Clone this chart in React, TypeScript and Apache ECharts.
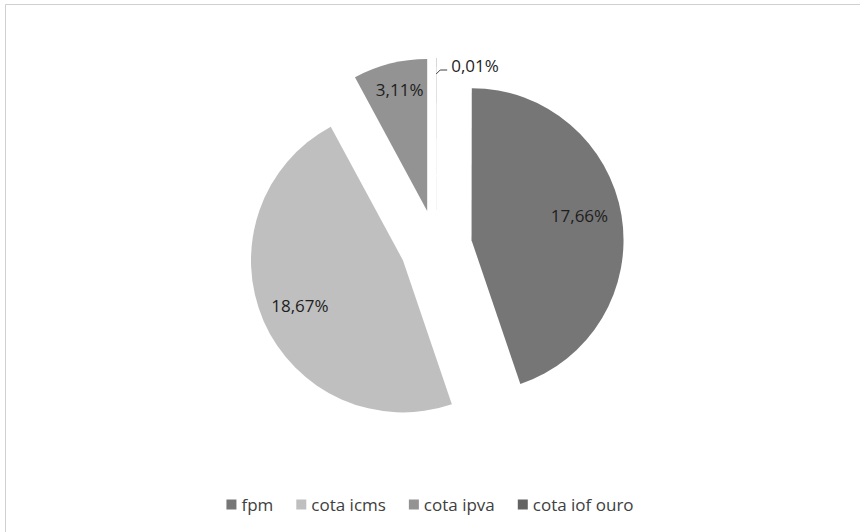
import React, { useEffect, useRef } from "react";
import * as echarts from "echarts";

const categories = ["fpm", "cota icms", "cota ipva", "cota iof ouro"];
const values = [17.66, 18.67, 3.11, 0.01];
const colors = ["#767676", "#bfbfbf", "#939393", "#636363"];

const fmt = (v: number) => v.toFixed(2).replace(".", ",") + "%";
const FONT = "'Open Sans', 'Liberation Sans', sans-serif";

export default function App() {
  const ref = useRef<HTMLDivElement>(null);
  useEffect(() => {
    const chart = echarts.init(ref.current!, null, { renderer: "svg" });
    const center = [436, 246];
    const R = 152;
    const offset = 36;
    const mainData = categories.map((name, i) => ({
      name,
      value: values[i],
      selected: true,
      itemStyle: { color: colors[i] },
      label:
        i === 3
          ? { show: true, position: "outside" }
          : { show: false },
      labelLine: { show: i === 3 },
    }));
    const labelData = categories.map((name, i) => ({
      name,
      value: values[i],
      selected: true,
      itemStyle: { color: "rgba(0,0,0,0)" },
      label: { show: i !== 3 },
    }));
    chart.setOption({
      animation: false,
      backgroundColor: "#ffffff",
      graphic: [
        {
          type: "rect",
          shape: { x: 5.5, y: 4.5, width: 900, height: 600 },
          style: { fill: "none", stroke: "#cfcfcf", lineWidth: 1 },
          silent: true,
        },
      ],
      legend: {
        data: categories,
        bottom: 14,
        left: "center",
        icon: "rect",
        itemWidth: 10,
        itemHeight: 10,
        itemGap: 23,
        textStyle: { fontFamily: FONT, fontSize: 17, color: "#404040" },
        selectedMode: false,
      },
      series: [
        {
          type: "pie",
          center,
          radius: R,
          startAngle: 89.9,
          clockwise: true,
          selectedMode: "multiple",
          selectedOffset: offset,
          silent: true,
          avoidLabelOverlap: false,
          label: {
            formatter: (p: any) => fmt(p.value),
            fontFamily: FONT,
            fontSize: 17,
            color: "#1e1e1e",
          },
          labelLine: {
            length: 6,
            length2: 8,
            lineStyle: { color: "#404040", width: 1 },
          },
          labelLayout: (p: any) => {
            const pts = p.labelLinePoints;
            if (p.dataIndex !== 3 || !pts) return {};
            const x0 = pts[0][0];
            const y0 = pts[0][1];
            return {
              dx: 2,
              dy: 13,
              labelLinePoints: [
                [x0, y0 + 16],
                [x0 + 4, y0 + 12],
                [x0 + 11, y0 + 12],
              ],
            };
          },
          data: mainData,
        },
        {
          type: "pie",
          center,
          radius: R * 1.44,
          startAngle: 89.9,
          clockwise: true,
          selectedMode: "multiple",
          selectedOffset: offset,
          silent: true,
          avoidLabelOverlap: false,
          z: 5,
          label: {
            position: "inside",
            formatter: (p: any) => fmt(p.value),
            fontFamily: FONT,
            fontSize: 17,
            color: "#1e1e1e",
          },
          labelLine: { show: false },
          labelLayout: (p: any) =>
            p.dataIndex === 2 ? { dy: -13 } : p.dataIndex === 0 ? { dx: -3, dy: -6 } : {},
          data: labelData,
        },
      ],
    });
    return () => chart.dispose();
  }, []);
  return (
    <div
      ref={ref}
      style={{ position: "fixed", left: 0, top: 0, width: 860, height: 532 }}
    />
  );
}
